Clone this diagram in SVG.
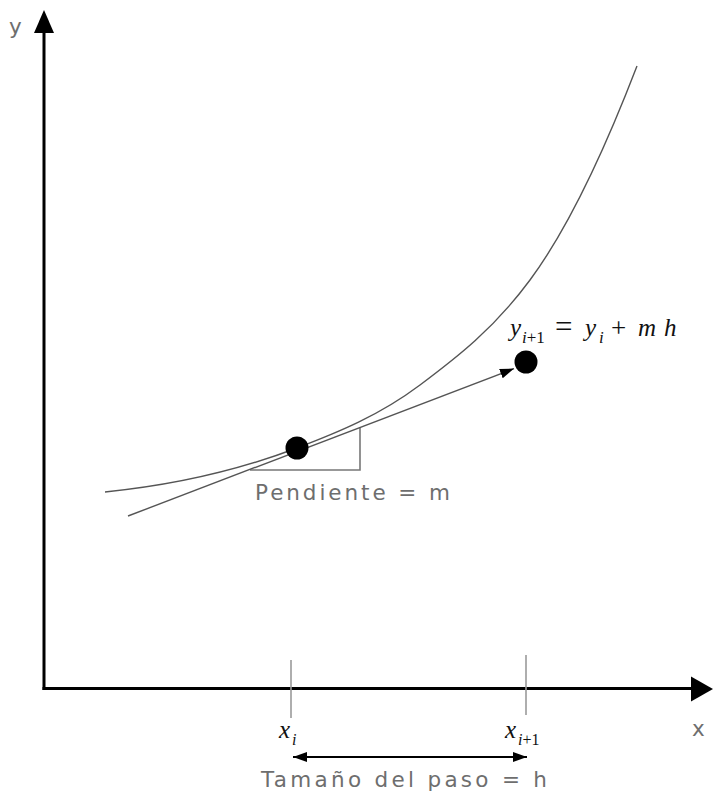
<svg xmlns="http://www.w3.org/2000/svg" width="713" height="794" viewBox="0 0 713 794">
  <style>
    .axis { stroke: #000; stroke-width: 3; fill: none; }
    .thin { stroke: #555; stroke-width: 1.4; fill: none; }
    .tick { stroke: #9a9a9a; stroke-width: 1.6; fill: none; }
    .tri { stroke: #777; stroke-width: 1.6; fill: none; }
    .lbl { font-family: "DejaVu Sans", "Liberation Sans", sans-serif; fill: #6e6e6e; font-size: 21.5px; }
    .math { font-family: "Liberation Serif", "Times New Roman", serif; fill: #111; }
    .it { font-style: italic; }
  </style>
  <defs>
    <marker id="ah" markerUnits="userSpaceOnUse" markerWidth="16" markerHeight="12" refX="14" refY="5" orient="auto-start-reverse" viewBox="0 0 16 12">
      <path d="M0,0 L14,5 L0,10 z" fill="#000"/>
    </marker>
  </defs>
  <rect width="713" height="794" fill="#fff"/>

  <g id="axes">
    <line class="axis" x1="44" y1="30" x2="44" y2="690"/>
    <line class="axis" x1="42.5" y1="688.5" x2="694" y2="688.5"/>
    <polygon points="44,10 34,33 54,33" fill="#000"/>
    <polygon points="713,689 691,676.5 691,701.5" fill="#000"/>
    <text class="lbl" x="9" y="34">y</text>
    <text class="lbl" x="692" y="736" font-size="20">x</text>
  </g>

  <g id="curve">
    <path class="thin" d="M105,492 C169,485.6 233,472.3 297,448 C338,432.4 379,415.75 420,385 C456.67,357.5 493.33,329.5 530,280 C565.67,231.85 601.33,158.7 637,66"/>
  </g>

  <g id="slope-triangle">
    <polyline class="tri" points="250,470 360,470 360,427"/>
  </g>

  <g id="connectors">
    <line id="tangent" class="thin" x1="128" y1="516" x2="514" y2="368.6" marker-end="url(#ah)"/>
    <line id="step" stroke="#000" stroke-width="1.8" x1="293" y1="757" x2="527" y2="757" marker-start="url(#ah)" marker-end="url(#ah)"/>
  </g>

  <g id="point-i">
    <circle cx="297" cy="448" r="11.5" fill="#000"/>
  </g>
  <g id="point-i1">
    <circle cx="526" cy="362" r="11.5" fill="#000"/>
  </g>

  <g id="ticks">
    <line class="tick" x1="291" y1="660" x2="291" y2="718"/>
    <line class="tick" x1="526" y1="655" x2="526" y2="715"/>
  </g>

  <g id="labels">
    <text class="lbl" x="255" y="500" textLength="195" lengthAdjust="spacing">Pendiente = m</text>
    <text class="lbl" x="261" y="787" textLength="286" lengthAdjust="spacing">Tamaño del paso = h</text>
    <text class="math it" x="279" y="738" font-size="25">x</text>
    <text class="math it" x="292" y="745" font-size="16">i</text>
    <text class="math it" x="505" y="738" font-size="25">x</text>
    <text class="math" x="518" y="745" font-size="16"><tspan class="it">i</tspan>+1</text>
  </g>

  <g id="equation" class="math">
    <text x="510" y="336" font-size="25" class="it">y</text>
    <text x="522" y="343" font-size="17"><tspan class="it">i</tspan>+1</text>
    <text x="555" y="337" font-size="31">=</text>
    <text x="585" y="336" font-size="25" class="it">y</text>
    <text x="599" y="343" font-size="17" class="it">i</text>
    <text x="611" y="337" font-size="27">+</text>
    <text x="638" y="336" font-size="25" class="it">m</text>
    <text x="664" y="336" font-size="25" class="it">h</text>
  </g>
</svg>
